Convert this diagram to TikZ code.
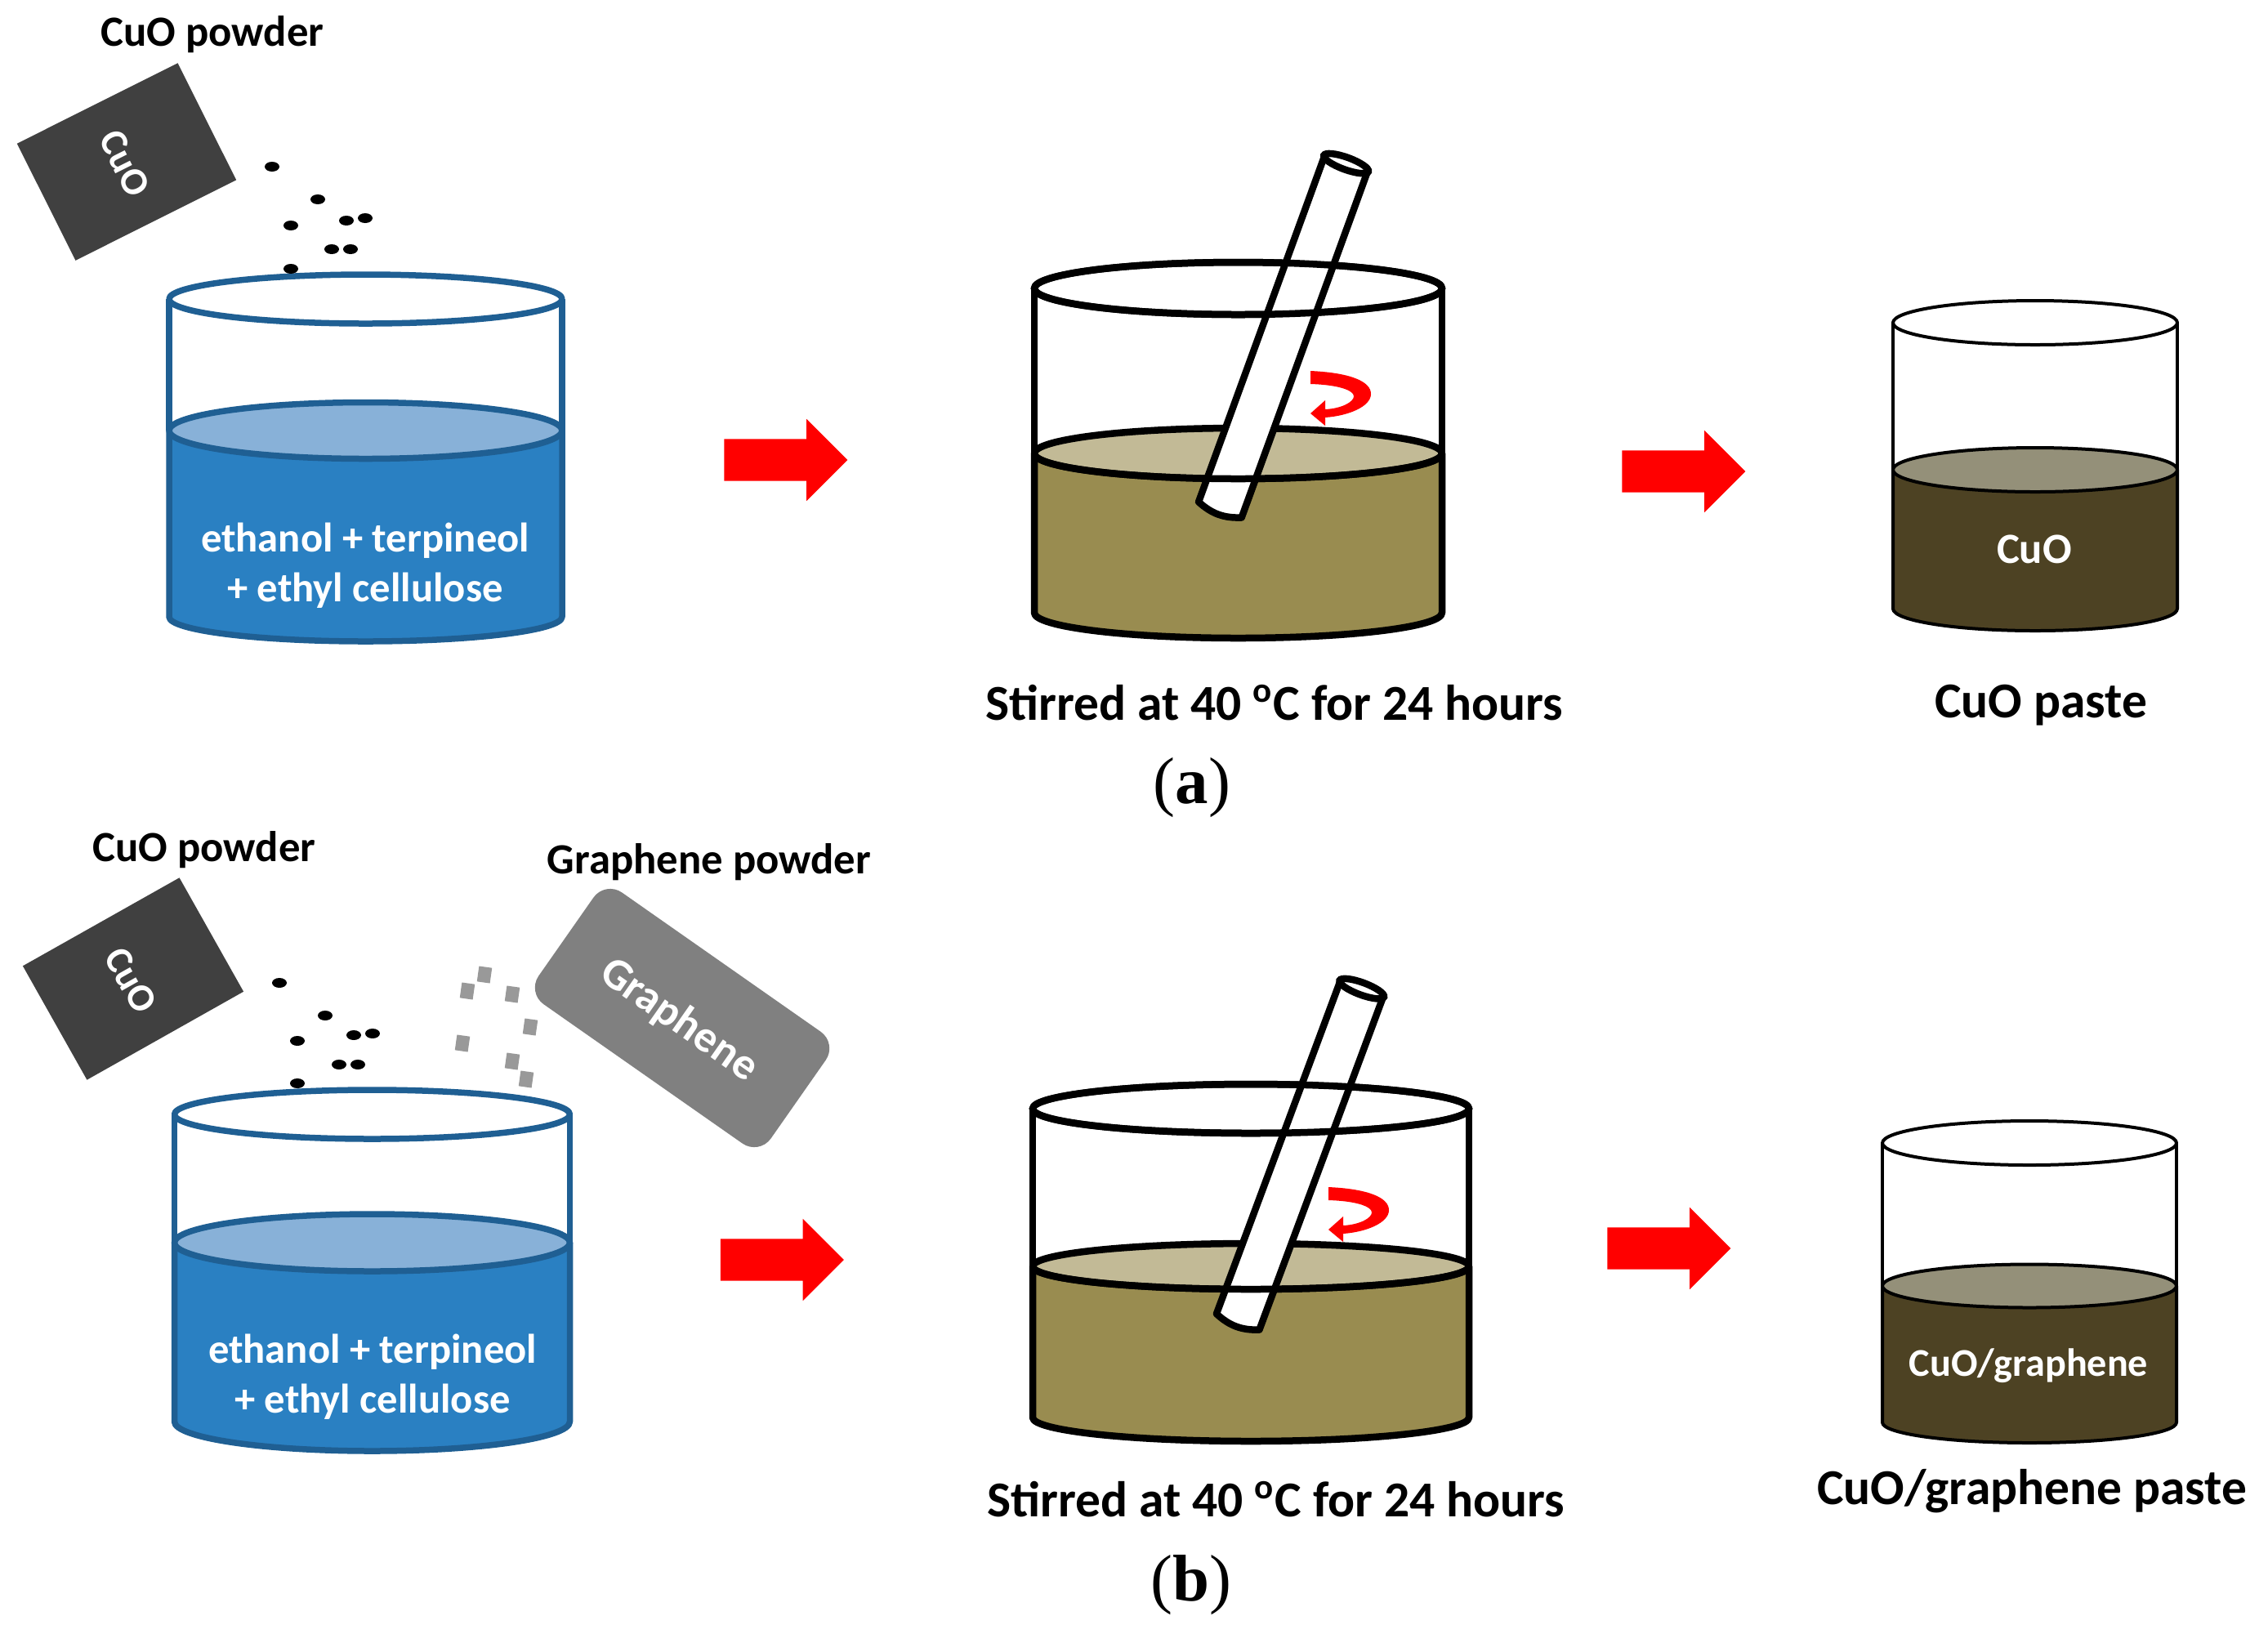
\documentclass[tikz,border=0pt]{standalone}
\usepackage{fontspec}
\setmainfont{Carlito}
\newfontfamily\panelfont{Liberation Serif}
\usetikzlibrary{shapes, arrows}
\definecolor{blueLine}{HTML}{1F5F93}
\definecolor{blueLiquid}{HTML}{2A80C2}
\definecolor{blueTop}{HTML}{88B1D8}
\definecolor{oliveLiquid}{HTML}{998C50}
\definecolor{oliveTop}{HTML}{C2BA96}
\definecolor{darkLiquid}{HTML}{4D4223}
\definecolor{darkTop}{HTML}{949079}
\tikzset{
    liquid color/.store in=\liquidcolor,
    surface color/.store in=\surfacecolor,
}
\tikzstyle{blueBeaker} = [draw=blueLine, line width=0.075cm, liquid color=blueLiquid, surface color=blueTop]
\tikzstyle{oliveBeaker} = [draw=black, line width=0.085cm, liquid color=oliveLiquid, surface color=oliveTop]
\tikzstyle{darkBeaker} = [draw=black, line width=0.04cm, liquid color=darkLiquid, surface color=darkTop]
\tikzstyle{blackText} = [inner sep=0, text=black, font=\fontsize{15}{18}\selectfont\bfseries]
\tikzstyle{bigText} = [inner sep=0, text=black, font=\fontsize{17.5}{20}\selectfont\bfseries]
\tikzstyle{whiteText} = [inner sep=0, text=white, align=center, font=\fontsize{14.4}{17.5}\selectfont\bfseries]
\tikzstyle{panelText} = [inner sep=0, text=black, font=\fontsize{23}{26}\selectfont\panelfont]
\tikzstyle{cuoBox} = [rectangle, fill=black!75, minimum width=1.6cm, minimum height=2.2cm, inner sep=0]
\tikzstyle{grapheneBox} = [rectangle, fill=black!50, rounded corners=0.25cm, minimum width=3.47cm, minimum height=1.67cm, inner sep=0]
\tikzstyle{blockArrow} = [single arrow, fill=red, inner xsep=0, inner ysep=0.25cm, minimum height=1.51cm, single arrow head extend=0.245cm]
\tikzstyle{grain} = [ellipse, fill=black, inner sep=0, minimum width=0.18cm, minimum height=0.12cm]
\tikzstyle{flake} = [rectangle, fill=black!40, rotate=-8, inner sep=0, minimum width=0.16cm, minimum height=0.19cm]
\tikzstyle{stirrerBody} = [rectangle, inner sep=0, outer sep=0, minimum width=0.56cm]
\tikzstyle{stirrerEnd} = [ellipse, draw=black, fill=white, line width=0.085cm, inner sep=0, minimum width=0.58cm, minimum height=0.15cm]
\tikzstyle{stirrerLine} = [draw=black, fill=white, line width=0.085cm, line join=round]

% style, centre x, half width, rim y, rim ry, liquid y, liquid ry, bottom y, bottom ry
\newcommand{\beaker}[9]{
    \begin{scope}[#1, line join=round]
        \draw[fill=\liquidcolor] (#2-#3,#6) -- (#2-#3,#8) arc [start angle=180,end angle=360,x radius=#3cm,y radius=#9cm] -- (#2+#3,#6) -- cycle;
        \draw (#2-#3,#4) -- (#2-#3,#6);
        \draw (#2+#3,#4) -- (#2+#3,#6);
        \draw[fill=\surfacecolor] (#2,#6) ellipse [x radius=#3cm,y radius=#7cm];
        \draw[fill=white] (#2,#4) ellipse [x radius=#3cm,y radius=#5cm];
    \end{scope}
}
% lines of the beaker which pass in front of the stirrer
\newcommand{\beakerfront}[7]{
    \begin{scope}[#1]
        \draw (#2,#4) ellipse [x radius=#3cm,y radius=#5cm];
        \draw (#2-#3,#6) arc [start angle=180,end angle=360,x radius=#3cm,y radius=#7cm];
    \end{scope}
}
% name, centre x, centre y, length, angle
\newcommand{\stirrer}[5]{
    \node (#1) [stirrerBody, minimum height=#4cm, rotate=#5] at (#2,#3) {};
    \draw[stirrerLine] (#1.north west) -- (#1.south west) to[bend right=22] (#1.south east) -- (#1.north east);
    \node (#1End) [stirrerEnd, rotate=#5] at (#1.north) {};
}
% curled arrow, given by the top left corner of its tail
\newcommand{\curlarrow}[2]{
    \fill[red, shift={(#1,#2)}] (0,0) .. controls (0.46,0.02) and (0.75,0.12) .. (0.74,0.29)
        .. controls (0.73,0.44) and (0.46,0.55) .. (0.18,0.57) -- (0.18,0.67) -- (0,0.52) -- (0.18,0.36) -- (0.18,0.47)
        .. controls (0.38,0.46) and (0.53,0.38) .. (0.53,0.31) .. controls (0.53,0.24) and (0.35,0.17) .. (0,0.16) -- cycle;
}

\begin{document}
\begin{tikzpicture}[x=1cm, y=-1cm]
    \useasboundingbox (0,0) rectangle (27.76,19.99);

    % (a)
    \node (powderA) [blackText] at (2.60,0.42) {CuO powder};
    \node (cuoBoxA) [cuoBox, rotate=-63.4] at (1.55,1.98) {};
    \node (cuoTextA) [whiteText, rotate=-63.4, font=\fontsize{13.5}{18}\selectfont\bfseries] at (1.53,2.00) {CuO};
    \beaker{blueBeaker}{4.475}{2.405}{3.66}{0.30}{5.27}{0.345}{7.55}{0.30}
    \node (grainA1) [grain] at (3.33,2.04) {};
    \node (grainA2) [grain] at (3.89,2.44) {};
    \node (grainA3) [grain] at (3.56,2.76) {};
    \node (grainA4) [grain] at (4.24,2.70) {};
    \node (grainA5) [grain] at (4.47,2.67) {};
    \node (grainA6) [grain] at (4.06,3.05) {};
    \node (grainA7) [grain] at (4.29,3.05) {};
    \node (grainA8) [grain] at (3.56,3.29) {};
    \node (solventA) [whiteText] at (4.47,6.92) {ethanol + terpineol\\+ ethyl cellulose};
    \node (arrowA1) [blockArrow] at (9.49,5.63) {};

    \beaker{oliveBeaker}{15.155}{2.495}{3.53}{0.32}{5.55}{0.31}{7.50}{0.31}
    \stirrer{stirA}{15.705}{4.12}{4.51}{-20}
    \beakerfront{oliveBeaker}{15.155}{2.495}{3.53}{0.32}{5.55}{0.31}
    \curlarrow{16.04}{4.54}
    \node (stirTextA) [bigText] at (15.60,8.60) {Stirred at 40 \textsuperscript{o}C for 24 hours};
    \node (arrowA2) [blockArrow] at (20.48,5.77) {};

    \beaker{darkBeaker}{24.91}{1.74}{3.95}{0.27}{5.75}{0.27}{7.45}{0.27}
    \node (pasteA) [whiteText, font=\fontsize{15}{18}\selectfont\bfseries] at (24.90,6.72) {CuO};
    \node (pasteTextA) [bigText] at (24.98,8.63) {CuO paste};
    \node (panelA) [panelText] at (14.59,9.64) {(\textbf{a})};

    % (b)
    \node (powderB) [blackText] at (2.50,10.40) {CuO powder};
    \node (graphenePowder) [blackText] at (8.68,10.55) {Graphene powder};
    \node (cuoBoxB) [cuoBox, rotate=-60.6] at (1.63,11.98) {};
    \node (cuoTextB) [whiteText, rotate=-60.6, font=\fontsize{13.5}{18}\selectfont\bfseries] at (1.60,12.00) {CuO};
    \node (grapheneBox) [grapheneBox, rotate=-35] at (8.35,12.46) {};
    \node (grapheneText) [whiteText, rotate=-35, font=\fontsize{15.5}{18}\selectfont\bfseries] at (8.31,12.49) {Graphene};
    \beaker{blueBeaker}{4.555}{2.42}{13.64}{0.30}{15.21}{0.35}{17.40}{0.36}
    \node (grainB1) [grain] at (3.42,12.03) {};
    \node (grainB2) [grain] at (3.98,12.43) {};
    \node (grainB3) [grain] at (3.64,12.74) {};
    \node (grainB4) [grain] at (4.33,12.67) {};
    \node (grainB5) [grain] at (4.56,12.65) {};
    \node (grainB6) [grain] at (4.15,13.03) {};
    \node (grainB7) [grain] at (4.38,13.03) {};
    \node (grainB8) [grain] at (3.64,13.26) {};
    \node (flake1) [flake] at (5.93,11.93) {};
    \node (flake2) [flake] at (5.72,12.13) {};
    \node (flake3) [flake] at (6.27,12.17) {};
    \node (flake4) [flake] at (6.49,12.57) {};
    \node (flake5) [flake] at (5.66,12.77) {};
    \node (flake6) [flake] at (6.27,12.99) {};
    \node (flake7) [flake] at (6.44,13.21) {};
    \node (solventB) [whiteText] at (4.56,16.85) {ethanol + terpineol\\+ ethyl cellulose};
    \node (arrowB1) [blockArrow] at (9.445,15.42) {};

    \beaker{oliveBeaker}{15.31}{2.67}{13.57}{0.30}{15.50}{0.28}{17.35}{0.29}
    \stirrer{stirB}{15.91}{14.14}{4.35}{-20.4}
    \beakerfront{oliveBeaker}{15.31}{2.67}{13.57}{0.30}{15.50}{0.28}
    \curlarrow{16.26}{14.53}
    \node (stirTextB) [bigText] at (15.62,18.35) {Stirred at 40 \textsuperscript{o}C for 24 hours};
    \node (arrowB2) [blockArrow] at (20.30,15.28) {};

    \beaker{darkBeaker}{24.84}{1.80}{13.99}{0.27}{15.74}{0.265}{17.41}{0.25}
    \node (pasteB) [whiteText, font=\fontsize{13.7}{16}\selectfont\bfseries] at (24.83,16.72) {CuO/graphene};
    \node (pasteTextB) [bigText] at (24.87,18.25) {CuO/graphene paste};
    \node (panelB) [panelText] at (14.58,19.40) {(\textbf{b})};
\end{tikzpicture}
\end{document}
